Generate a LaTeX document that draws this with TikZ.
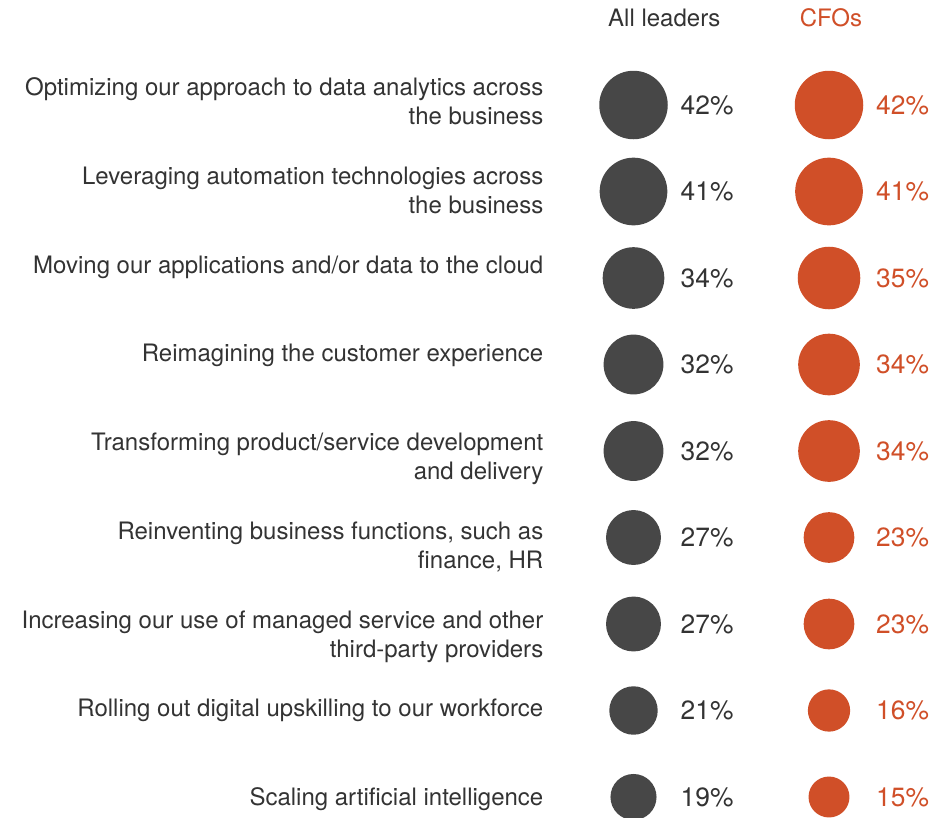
\documentclass[tikz,border=0pt]{standalone}
\usepackage{fontspec}
\setmainfont{TeX Gyre Heros}
\usepackage{tikz}
\usepackage{xcolor}
\definecolor{txtgrey}{HTML}{333333}
\definecolor{dotgrey}{HTML}{474747}
\definecolor{cfoorange}{HTML}{D04F28}
\tikzstyle{item}=[anchor=base east,align=right,inner sep=0,text=txtgrey,font=\fontsize{24}{29.2}\selectfont]
\tikzstyle{head}=[anchor=base,inner sep=0,font=\fontsize{24}{29.2}\selectfont]
\tikzstyle{dotall}=[circle,fill=dotgrey,inner sep=0]
\tikzstyle{dotcfo}=[circle,fill=cfoorange,inner sep=0]
\tikzstyle{pct}=[anchor=west,inner sep=0,text=txtgrey,font=\fontsize{26.4}{30}\selectfont]
\tikzstyle{pctcfo}=[pct,text=cfoorange]

\begin{document}
\begin{tikzpicture}[x=1pt,y=-1pt]

    \useasboundingbox (0,0) rectangle (950,817);

    \node[head,text=txtgrey] (hall) at (664.3,26.7) {All leaders};
    \node[head,text=cfoorange] (hcfo) at (831,26.7) {CFOs};

    % two-line items sit on the baseline of their last line
    \node[item] (q1) at (543.5,124.9) {Optimizing our approach to data analytics across\\the business};
    \node[item] (q2) at (543.5,213.65) {Leveraging automation technologies across\\the business};
    \node[item] (q3) at (543.5,273.2) {Moving our applications and/or data to the cloud};
    \node[item] (q4) at (543.5,361.95) {Reimagining the customer experience};
    \node[item] (q5) at (543.5,479.9) {Transforming product/service development\\and delivery};
    \node[item] (q6) at (543.5,568.65) {Reinventing business functions, such as\\finance, HR};
    \node[item] (q7) at (543.5,657.4) {Increasing our use of managed service and other\\third-party providers};
    \node[item] (q8) at (543.5,716.95) {Rolling out digital upskilling to our workforce};
    \node[item] (q9) at (543.5,805.7) {Scaling artificial intelligence};

    % all leaders
    \node[dotall,minimum size={10.57*sqrt(42)}] (a1) at (633.5,105) {};
    \node[dotall,minimum size={10.57*sqrt(41)}] (a2) at (633.5,191.5) {};
    \node[dotall,minimum size={10.57*sqrt(34)}] (a3) at (633.5,278) {};
    \node[dotall,minimum size={10.57*sqrt(32)}] (a4) at (633.5,364.5) {};
    \node[dotall,minimum size={10.57*sqrt(32)}] (a5) at (633.5,451) {};
    \node[dotall,minimum size={10.57*sqrt(27)}] (a6) at (633.5,537.5) {};
    \node[dotall,minimum size={10.57*sqrt(27)}] (a7) at (633.5,624) {};
    \node[dotall,minimum size={10.57*sqrt(21)}] (a8) at (633.5,710.5) {};
    \node[dotall,minimum size={10.57*sqrt(19)}] (a9) at (633.5,797) {};

    \node[pct] (pa1) at (680.5,105) {42\%};
    \node[pct] (pa2) at (680.5,191.5) {41\%};
    \node[pct] (pa3) at (680.5,278) {34\%};
    \node[pct] (pa4) at (680.5,364.5) {32\%};
    \node[pct] (pa5) at (680.5,451) {32\%};
    \node[pct] (pa6) at (680.5,537.5) {27\%};
    \node[pct] (pa7) at (680.5,624) {27\%};
    \node[pct] (pa8) at (680.5,710.5) {21\%};
    \node[pct] (pa9) at (680.5,797) {19\%};

    % CFOs
    \node[dotcfo,minimum size={10.57*sqrt(42)}] (c1) at (829,105) {};
    \node[dotcfo,minimum size={10.57*sqrt(41)}] (c2) at (829,191.5) {};
    \node[dotcfo,minimum size={10.57*sqrt(35)}] (c3) at (829,278) {};
    \node[dotcfo,minimum size={10.57*sqrt(34)}] (c4) at (829,364.5) {};
    \node[dotcfo,minimum size={10.57*sqrt(34)}] (c5) at (829,451) {};
    \node[dotcfo,minimum size={10.57*sqrt(23)}] (c6) at (829,537.5) {};
    \node[dotcfo,minimum size={10.57*sqrt(23)}] (c7) at (829,624) {};
    \node[dotcfo,minimum size={10.57*sqrt(16)}] (c8) at (829,710.5) {};
    \node[dotcfo,minimum size={10.57*sqrt(15)}] (c9) at (829,797) {};

    \node[pctcfo] (pc1) at (876,105) {42\%};
    \node[pctcfo] (pc2) at (876,191.5) {41\%};
    \node[pctcfo] (pc3) at (876,278) {35\%};
    \node[pctcfo] (pc4) at (876,364.5) {34\%};
    \node[pctcfo] (pc5) at (876,451) {34\%};
    \node[pctcfo] (pc6) at (876,537.5) {23\%};
    \node[pctcfo] (pc7) at (876,624) {23\%};
    \node[pctcfo] (pc8) at (876,710.5) {16\%};
    \node[pctcfo] (pc9) at (876,797) {15\%};

\end{tikzpicture}
\end{document}
